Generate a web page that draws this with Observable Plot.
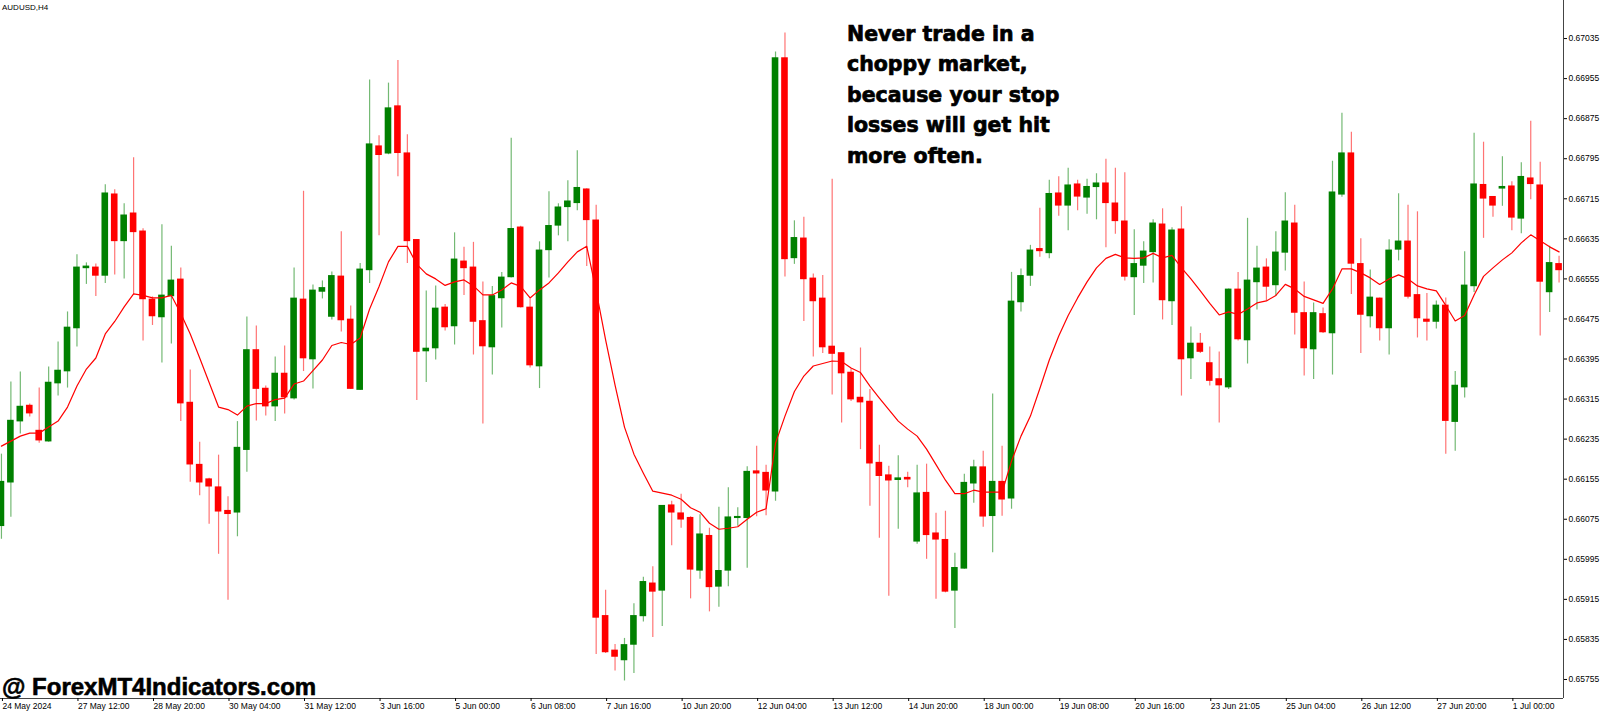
<!DOCTYPE html>
<html><head><meta charset="utf-8">
<script src="https://cdn.jsdelivr.net/npm/d3@7"></script>
<script src="https://cdn.jsdelivr.net/npm/@observablehq/plot@0.6"></script>
<style>
html,body{margin:0;padding:0;background:#fff;}
#chart{width:1600px;height:713px;overflow:hidden;}
</style></head><body><div id="chart"></div>
<script>
// AUDUSD H4 candles, bar index 0 = 24 May 2024 04:00
const open = [
0.66062,0.66149,0.66271,0.66301,0.66251,0.66231,0.66347,0.66371,0.66457,0.66577,
0.66577,0.66562,0.66723,0.66631,0.66685,0.66649,0.66513,0.66479,0.66521,0.66553,
0.66307,0.66183,0.66154,0.66138,0.66091,0.66089,0.66214,0.66412,0.66335,0.66301,
0.66365,0.66317,0.66513,0.66395,0.66530,0.66480,0.66559,0.66473,0.66334,0.66573,
0.66819,0.66806,0.66899,0.66805,0.66632,0.66411,0.66417,0.66497,0.66461,0.66589,
0.66577,0.66470,0.66419,0.66517,0.66559,0.66657,0.66497,0.66381,0.66613,0.66662,
0.66699,0.66707,0.66733,0.66671,0.65881,0.65812,0.65794,0.65825,0.65882,0.65946,
0.65933,0.66102,0.66086,0.66077,0.65973,0.66041,0.65941,0.65973,0.66078,0.66078,
0.66170,0.66167,0.66131,0.66995,0.66597,0.66635,0.66555,0.66515,0.66419,0.66406,
0.66367,0.66317,0.66309,0.66187,0.66162,0.66154,0.66157,0.66031,0.66127,0.66046,
0.66033,0.65933,0.65977,0.66147,0.66178,0.66082,0.66149,0.66117,0.66509,0.66562,
0.66614,0.66607,0.66725,0.66702,0.66743,0.66718,0.66739,0.66745,0.66705,0.66669,
0.66559,0.66582,0.66609,0.66663,0.66511,0.66653,0.66397,0.66425,0.66386,0.66354,
0.66339,0.66533,0.66433,0.66549,0.66577,0.66543,0.66608,0.66665,0.66486,0.66415,
0.66484,0.66447,0.66724,0.66805,0.66584,0.66481,0.66515,0.66457,0.66614,0.66629,
0.66522,0.66473,0.66470,0.66501,0.66270,0.66339,0.66541,0.66742,0.66718,0.66736,
0.66739,0.66676,0.66755,0.66741,0.66529,0.66584];
const high = [
0.66205,0.66349,0.66369,0.66305,0.66337,0.66379,0.66429,0.66489,0.66603,0.66587,
0.66585,0.66743,0.66733,0.66705,0.66797,0.66655,0.66519,0.66663,0.66620,0.66577,
0.66373,0.66229,0.66157,0.66203,0.66120,0.66270,0.66479,0.66461,0.66341,0.66399,
0.66421,0.66577,0.66730,0.66543,0.66551,0.66569,0.66649,0.66501,0.66586,0.66952,
0.66841,0.66946,0.66991,0.66843,0.66633,0.66531,0.66541,0.66504,0.66647,0.66618,
0.66628,0.66549,0.66540,0.66568,0.66836,0.66660,0.66515,0.66629,0.66729,0.66705,
0.66751,0.66811,0.66735,0.66702,0.65933,0.65825,0.65837,0.65906,0.65959,0.65980,
0.66102,0.66111,0.66125,0.66080,0.66084,0.66057,0.66099,0.66138,0.66098,0.66180,
0.66221,0.66183,0.67008,0.67046,0.66671,0.66678,0.66565,0.66562,0.66754,0.66407,
0.66375,0.66417,0.66334,0.66223,0.66181,0.66202,0.66169,0.66183,0.66185,0.66087,
0.66091,0.66007,0.66165,0.66193,0.66211,0.66325,0.66221,0.66568,0.66575,0.66622,
0.66696,0.66752,0.66759,0.66776,0.66752,0.66754,0.66765,0.66794,0.66776,0.66767,
0.66653,0.66629,0.66673,0.66695,0.66657,0.66699,0.66459,0.66446,0.66419,0.66409,
0.66535,0.66568,0.66676,0.66620,0.66595,0.66649,0.66727,0.66702,0.66549,0.66507,
0.66497,0.66790,0.66886,0.66848,0.66635,0.66573,0.66517,0.66633,0.66725,0.66702,
0.66689,0.66526,0.66511,0.66517,0.66370,0.66609,0.66846,0.66828,0.66718,0.66799,
0.66749,0.66787,0.66870,0.66788,0.66620,0.66600];
const low = [
0.66035,0.66079,0.66245,0.66279,0.66227,0.66229,0.66321,0.66337,0.66419,0.66544,
0.66520,0.66546,0.66563,0.66555,0.66523,0.66431,0.66462,0.66387,0.66425,0.66270,
0.66149,0.66122,0.66065,0.66005,0.65913,0.66040,0.66169,0.66271,0.66281,0.66270,
0.66285,0.66313,0.66370,0.66335,0.66515,0.66473,0.66449,0.66334,0.66332,0.66546,
0.66641,0.66803,0.66759,0.66586,0.66312,0.66348,0.66393,0.66451,0.66423,0.66522,
0.66403,0.66265,0.66363,0.66457,0.66557,0.66497,0.66377,0.66336,0.66557,0.66641,
0.66629,0.66691,0.66580,0.65805,0.65807,0.65772,0.65752,0.65767,0.65870,0.65839,
0.65861,0.66022,0.66057,0.65916,0.65955,0.65890,0.65899,0.65940,0.66061,0.65977,
0.66080,0.66082,0.66111,0.66559,0.66584,0.66470,0.66399,0.66406,0.66323,0.66267,
0.66310,0.66214,0.66101,0.66037,0.65921,0.66055,0.66138,0.66025,0.65995,0.65915,
0.65928,0.65857,0.65975,0.66107,0.66059,0.66008,0.66081,0.66095,0.66489,0.66540,
0.66598,0.66595,0.66680,0.66651,0.66691,0.66684,0.66673,0.66617,0.66644,0.66551,
0.66482,0.66546,0.66547,0.66473,0.66462,0.66321,0.66354,0.66406,0.66341,0.66267,
0.66334,0.66431,0.66385,0.66493,0.66511,0.66520,0.66571,0.66443,0.66361,0.66354,
0.66446,0.66363,0.66718,0.66524,0.66406,0.66457,0.66431,0.66403,0.66591,0.66515,
0.66437,0.66431,0.66455,0.66205,0.66211,0.66317,0.66528,0.66636,0.66678,0.66700,
0.66651,0.66645,0.66713,0.66441,0.66488,0.66547];
const close = [
0.66149,0.66271,0.66299,0.66287,0.66233,0.66347,0.66371,0.66457,0.66577,0.66579,
0.66562,0.66725,0.66631,0.66681,0.66649,0.66515,0.66481,0.66521,0.66551,0.66307,
0.66185,0.66149,0.66141,0.66091,0.66086,0.66217,0.66412,0.66336,0.66301,0.66365,
0.66319,0.66515,0.66397,0.66531,0.66536,0.66560,0.66473,0.66336,0.66573,0.66823,
0.66803,0.66895,0.66807,0.66631,0.66410,0.66415,0.66495,0.66459,0.66593,0.66577,
0.66470,0.66421,0.66520,0.66557,0.66654,0.66499,0.66383,0.66611,0.66660,0.66697,
0.66709,0.66736,0.66673,0.65879,0.65810,0.65801,0.65823,0.65881,0.65949,0.65931,
0.66101,0.66089,0.66075,0.65975,0.66044,0.65940,0.65971,0.66078,0.66079,0.66169,
0.66167,0.66133,0.66995,0.66595,0.66636,0.66555,0.66511,0.66419,0.66406,0.66367,
0.66315,0.66309,0.66187,0.66162,0.66153,0.66156,0.66155,0.66126,0.66044,0.66035,
0.65931,0.65977,0.66147,0.66178,0.66081,0.66149,0.66115,0.66509,0.66560,0.66611,
0.66611,0.66724,0.66702,0.66741,0.66720,0.66738,0.66745,0.66707,0.66671,0.66560,
0.66584,0.66609,0.66665,0.66513,0.66651,0.66395,0.66425,0.66410,0.66352,0.66343,
0.66533,0.66435,0.66551,0.66575,0.66540,0.66607,0.66669,0.66488,0.66417,0.66486,
0.66449,0.66727,0.66805,0.66586,0.66484,0.66517,0.66457,0.66611,0.66629,0.66520,
0.66477,0.66470,0.66501,0.66272,0.66341,0.66541,0.66743,0.66716,0.66702,0.66738,
0.66678,0.66758,0.66745,0.66550,0.66586,0.66573];
// moving average line as drawn on the chart
const ma = [
0.66221,0.66231,0.66241,0.66247,0.66247,0.66259,0.66271,0.66299,0.66341,0.66375,
0.66397,0.66445,0.66470,0.66499,0.66525,0.66522,0.66517,0.66517,0.66522,0.66486,
0.66445,0.66397,0.66348,0.66299,0.66294,0.66283,0.66301,0.66306,0.66306,0.66314,
0.66317,0.66345,0.66351,0.66372,0.66393,0.66422,0.66428,0.66424,0.66437,0.66495,
0.66540,0.66589,0.66620,0.66620,0.66584,0.66565,0.66555,0.66542,0.66549,0.66553,
0.66541,0.66523,0.66523,0.66533,0.66547,0.66540,0.66517,0.66533,0.66547,0.66567,
0.66589,0.66609,0.66620,0.66531,0.66433,0.66343,0.66259,0.66205,0.66167,0.66131,
0.66127,0.66123,0.66115,0.66098,0.66089,0.66067,0.66055,0.66057,0.66060,0.66075,
0.66089,0.66096,0.66227,0.66281,0.66330,0.66361,0.66381,0.66386,0.66391,0.66390,
0.66377,0.66368,0.66341,0.66317,0.66294,0.66271,0.66255,0.66241,0.66215,0.66184,
0.66153,0.66126,0.66126,0.66133,0.66129,0.66129,0.66129,0.66191,0.66241,0.66281,
0.66336,0.66393,0.66441,0.66482,0.66517,0.66549,0.66577,0.66596,0.66604,0.66597,
0.66596,0.66597,0.66606,0.66597,0.66602,0.66577,0.66555,0.66531,0.66506,0.66483,
0.66489,0.66484,0.66495,0.66507,0.66511,0.66522,0.66544,0.66535,0.66520,0.66513,
0.66506,0.66535,0.66575,0.66575,0.66567,0.66557,0.66544,0.66555,0.66563,0.66555,
0.66541,0.66535,0.66531,0.66502,0.66471,0.66482,0.66523,0.66560,0.66577,0.66593,
0.66607,0.66627,0.66643,0.66631,0.66619,0.66609];
const dateTickIdx = [0,8,16,24,32,40,48,56,64,72,80,88,96,104,112,120,128,136,144,152,160];
const dateLabels = ["24 May 2024","27 May 12:00","28 May 20:00","30 May 04:00","31 May 12:00","3 Jun 16:00","5 Jun 00:00","6 Jun 08:00","7 Jun 16:00","10 Jun 20:00","12 Jun 04:00","13 Jun 12:00","14 Jun 20:00","18 Jun 00:00","19 Jun 08:00","20 Jun 16:00","23 Jun 21:05","25 Jun 04:00","26 Jun 12:00","27 Jun 20:00","1 Jul 00:00"];
const priceTicks = [0.67035,0.66955,0.66875,0.66795,0.66715,0.66635,0.66555,0.66475,0.66395,0.66315,0.66235,0.66155,0.66075,0.65995,0.65915,0.65835,0.65755];
const symbolLabel = "AUDUSD,H4";
const noteLines = ["Never trade in a","choppy market,","because your stop","losses will get hit","more often."];
const watermark = "@ ForexMT4Indicators.com";

const UP = "#008000", DOWN = "#ff0000";
const bars = open.map((o, i) => ({i, open: o, high: high[i], low: low[i], close: close[i], ma: ma[i], up: close[i] >= o}));
const xDomain = [-0.1, 165.47];
const yDomain = [0.65717, 0.67111];

const svg = Plot.plot({
  width: 1600, height: 713,
  marginLeft: 0, marginRight: 37, marginTop: 0, marginBottom: 15,
  x: {type: "linear", domain: xDomain},
  y: {domain: yDomain},
  color: {type: "identity"},
  style: {background: "#fff", fontFamily: "'Liberation Sans', Arial, sans-serif", fontSize: "8.5px", color: "#000"},
  marks: [
    Plot.ruleX(bars, {x: "i", y1: "low", y2: "high", stroke: d => d.up ? UP : DOWN, strokeOpacity: 0.55, strokeWidth: 1.2}),
    Plot.rect(bars, {x1: d => d.i - 0.35, x2: d => d.i + 0.35, y1: "open", y2: "close", fill: d => d.up ? UP : DOWN, insetTop: -0.8, insetBottom: -0.8}),
    Plot.line(bars, {x: "i", y: "ma", stroke: DOWN, strokeWidth: 1.2}),
    Plot.ruleX([xDomain[1]], {stroke: "#444", strokeWidth: 1}),
    Plot.ruleY([yDomain[0]], {stroke: "#444", strokeWidth: 1}),
    Plot.axisY(priceTicks, {anchor: "right", tickSize: 3, tickPadding: 2, tickFormat: d3.format(".5f"), label: null, fontSize: 8.5}),
    Plot.axisX(dateTickIdx, {anchor: "bottom", tickSize: 3, tickPadding: 1, textAnchor: "start", dx: 1, label: null, fontSize: 8.5,
      tickFormat: d => dateLabels[dateTickIdx.indexOf(d)]})
  ]
});
document.getElementById("chart").appendChild(svg);

const s = d3.select(svg);
s.append("text").attr("x", 2).attr("y", 10).attr("text-anchor", "start").attr("font-family", "'Liberation Sans', Arial, sans-serif")
  .attr("font-size", 8).attr("fill", "#000").text(symbolLabel);
const note = s.append("text").attr("text-anchor", "start").attr("font-family", "'DejaVu Sans', sans-serif").attr("font-weight", "bold")
  .attr("font-size", 20.5).attr("fill", "#000").attr("stroke", "#000").attr("stroke-width", 0.7);
noteLines.forEach((t, k) => note.append("tspan").attr("x", 847).attr("y", 41 + k * 30.4).attr("text-anchor", "start").text(t));
s.append("text").attr("x", 2).attr("y", 695).attr("text-anchor", "start").attr("font-family", "'Liberation Sans', Arial, sans-serif")
  .attr("font-weight", "bold").attr("font-size", 24).attr("fill", "#000").attr("stroke", "#000").attr("stroke-width", 0.6)
  .text(watermark);
</script></body></html>
